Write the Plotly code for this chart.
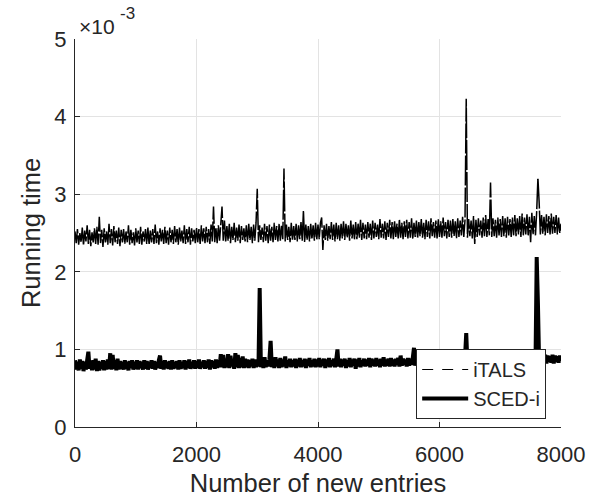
import plotly.graph_objects as go

# x positions: number of new entries (every 20 entries)
entries = list(range(0, 8001, 20))

# Running time, in units of 1e-3 (seconds)
italS_ms = [
    2.52, 2.37, 2.55, 2.35, 2.50, 2.38, 2.57, 2.34, 2.53, 2.39, 2.60, 2.36, 2.54, 2.33, 2.51, 2.38, 2.56, 2.36, 2.58, 2.35,
    2.71, 2.37, 2.54, 2.32, 2.56, 2.38, 2.52, 2.35, 2.62, 2.37, 2.55, 2.34, 2.59, 2.38, 2.53, 2.36, 2.57, 2.33, 2.54, 2.38,
    2.55, 2.36, 2.52, 2.38, 2.60, 2.35, 2.54, 2.37, 2.51, 2.34, 2.56, 2.38, 2.53, 2.36, 2.58, 2.35, 2.52, 2.39, 2.55, 2.36,
    2.57, 2.35, 2.53, 2.38, 2.55, 2.36, 2.61, 2.37, 2.52, 2.35, 2.56, 2.39, 2.54, 2.36, 2.58, 2.37, 2.53, 2.35, 2.57, 2.38,
    2.54, 2.36, 2.59, 2.38, 2.55, 2.35, 2.57, 2.39, 2.53, 2.37, 2.60, 2.36, 2.55, 2.38, 2.58, 2.35, 2.56, 2.39, 2.54, 2.37,
    2.57, 2.38, 2.55, 2.36, 2.60, 2.39, 2.56, 2.37, 2.58, 2.38, 2.55, 2.36, 2.61, 2.39, 2.84, 2.38, 2.57, 2.37, 2.60, 2.40,
    2.62, 2.84, 2.40, 2.66, 2.38, 2.59, 2.40, 2.62, 2.37, 2.58, 2.41, 2.63, 2.38, 2.57, 2.40, 2.61, 2.37, 2.59, 2.41, 2.56,
    2.39, 2.60, 2.38, 2.62, 2.41, 2.58, 2.37, 2.61, 2.40, 2.63, 3.07, 2.38, 2.60, 2.41, 2.57, 2.38, 2.62, 2.40, 2.59, 2.37,
    2.61, 2.40, 2.58, 2.38, 2.63, 2.41, 2.59, 2.39, 2.62, 2.40, 2.60, 2.42, 3.33, 2.39, 2.61, 2.41, 2.58, 2.38, 2.63, 2.40,
    2.59, 2.41, 2.62, 2.39, 2.60, 2.42, 2.64, 2.40, 2.79, 2.38, 2.61, 2.41, 2.59, 2.39, 2.62, 2.42, 2.60, 2.40, 2.63, 2.41,
    2.61, 2.42, 2.63, 2.70, 2.28, 2.60, 2.41, 2.62, 2.40, 2.59, 2.42, 2.64, 2.41, 2.61, 2.39, 2.63, 2.42, 2.60, 2.40, 2.62,
    2.43, 2.65, 2.41, 2.62, 2.44, 2.60, 2.40, 2.66, 2.43, 2.61, 2.41, 2.64, 2.42, 2.62, 2.44, 2.67, 2.41, 2.63, 2.43, 2.61,
    2.42, 2.64, 2.44, 2.62, 2.41, 2.66, 2.43, 2.63, 2.45, 2.61, 2.42, 2.68, 2.44, 2.62, 2.43, 2.65, 2.41, 2.63, 2.45, 2.67,
    2.43, 2.64, 2.42, 2.66, 2.45, 2.62, 2.43, 2.68, 2.44, 2.63, 2.42, 2.65, 2.45, 2.67, 2.43, 2.64, 2.44, 2.69, 2.42, 2.63,
    2.45, 2.66, 2.43, 2.64, 2.46, 2.68, 2.44, 2.63, 2.42, 2.67, 2.45, 2.65, 2.43, 2.69, 2.46, 2.64, 2.44, 2.66, 2.43, 2.68,
    2.45, 2.65, 2.44, 2.70, 2.46, 2.64, 2.43, 2.67, 2.45, 2.66, 2.44, 2.68, 2.46, 2.65, 2.43, 2.69, 2.45, 2.66, 2.47, 2.71,
    2.45, 2.67, 4.23, 2.44, 2.68, 2.46, 2.66, 2.43, 2.72, 2.36, 2.67, 2.45, 2.69, 2.47, 2.66, 2.44, 2.70, 2.46, 2.73, 2.45,
    2.68, 2.47, 3.15, 2.45, 2.69, 2.46, 2.67, 2.44, 2.70, 2.47, 2.68, 2.45, 2.72, 2.46, 2.69, 2.44, 2.71, 2.47, 2.68, 2.45,
    2.70, 2.47, 2.73, 2.46, 2.69, 2.48, 2.72, 2.45, 2.75, 2.47, 2.70, 2.48, 2.74, 2.46, 2.71, 2.38, 2.76, 2.48, 2.72, 2.47,
    2.78, 3.21, 2.90, 2.48, 2.73, 2.49, 2.71, 2.47, 2.74, 2.50, 2.72, 2.48, 2.75, 2.49, 2.71, 2.50, 2.73, 2.48, 2.70, 2.50,
    2.62,
]

sced_ms = [
    0.86, 0.74, 0.84, 0.73, 0.87, 0.75, 0.85, 0.72, 0.84, 0.74, 0.86, 0.97, 0.75, 0.85, 0.73, 0.86, 0.74, 0.88, 0.72, 0.85,
    0.73, 0.84, 0.75, 0.86, 0.73, 0.85, 0.74, 0.87, 0.75, 0.95, 0.74, 0.93, 0.75, 0.86, 0.73, 0.88, 0.74, 0.85, 0.75, 0.84,
    0.74, 0.86, 0.75, 0.84, 0.73, 0.85, 0.76, 0.86, 0.74, 0.84, 0.75, 0.86, 0.74, 0.85, 0.76, 0.84, 0.74, 0.86, 0.75, 0.85,
    0.74, 0.84, 0.76, 0.86, 0.75, 0.85, 0.74, 0.84, 0.76, 0.86, 0.92, 0.75, 0.85, 0.74, 0.86, 0.76, 0.84, 0.75, 0.85, 0.74,
    0.86, 0.75, 0.84, 0.76, 0.85, 0.74, 0.86, 0.75, 0.84, 0.76, 0.86, 0.74, 0.85, 0.76, 0.87, 0.75, 0.84, 0.76, 0.86, 0.75,
    0.85, 0.76, 0.87, 0.75, 0.84, 0.77, 0.86, 0.75, 0.85, 0.76, 0.87, 0.74, 0.86, 0.77, 0.85, 0.75, 0.87, 0.76, 0.86, 0.77,
    0.94, 0.77, 0.93, 0.76, 0.88, 0.77, 0.94, 0.76, 0.92, 0.78, 0.87, 0.75, 0.95, 0.77, 0.93, 0.76, 0.89, 0.77, 0.91, 0.76,
    0.88, 0.77, 0.87, 0.76, 0.86, 0.78, 0.88, 0.76, 0.87, 0.77, 0.86, 0.78, 1.79, 0.77, 0.87, 0.76, 0.90, 0.77, 0.86, 0.78,
    0.87, 1.11, 0.77, 0.88, 0.76, 0.90, 0.78, 0.87, 0.76, 0.89, 0.77, 0.87, 0.78, 0.91, 0.76, 0.86, 0.78, 0.88, 0.77, 0.86,
    0.78, 0.88, 0.76, 0.87, 0.78, 0.89, 0.77, 0.86, 0.78, 0.88, 0.76, 0.87, 0.79, 0.89, 0.77, 0.86, 0.78, 0.88, 0.77, 0.87,
    0.78, 0.89, 0.77, 0.87, 0.79, 0.88, 0.76, 0.87, 0.78, 0.89, 0.77, 0.86, 0.79, 0.88, 0.77, 0.87, 1.00, 0.78, 0.88, 0.77,
    0.87, 0.79, 0.88, 0.76, 0.86, 0.78, 0.89, 0.77, 0.87, 0.79, 0.88, 0.75, 0.87, 0.78, 0.89, 0.77, 0.86, 0.79, 0.88, 0.78,
    0.87, 0.79, 0.89, 0.77, 0.88, 0.79, 0.87, 0.78, 0.89, 0.79, 0.87, 0.77, 0.88, 0.79, 0.90, 0.78, 0.87, 0.79, 0.88, 0.78,
    0.89, 0.79, 0.87, 0.78, 0.88, 0.80, 0.89, 0.78, 0.92, 0.79, 0.88, 0.80, 0.87, 0.78, 0.89, 0.79, 0.88, 0.80, 0.89, 1.02,
    0.79, 0.88, 0.80, 0.89, 0.78, 0.90, 0.80, 0.88, 0.79, 0.89, 0.81, 0.88, 0.79, 0.90, 0.80, 0.89, 0.79, 0.88, 0.81, 0.90,
    0.80, 0.89, 0.81, 0.90, 0.79, 0.88, 0.81, 0.91, 0.80, 0.89, 0.81, 0.90, 0.79, 0.89, 0.81, 0.91, 0.80, 0.89, 0.82, 0.90,
    0.80, 0.90, 1.21, 0.81, 0.89, 0.80, 0.91, 0.81, 0.90, 0.80, 0.89, 0.82, 0.91, 0.80, 0.90, 0.81, 0.92, 0.80, 0.89, 0.82,
    0.91, 0.81, 0.90, 0.82, 0.92, 0.80, 0.89, 0.81, 0.91, 0.82, 0.90, 0.80, 0.92, 0.81, 0.90, 0.82, 0.91, 0.81, 0.90, 0.83,
    0.91, 0.81, 0.92, 0.82, 0.90, 0.83, 0.91, 0.81, 0.93, 0.82, 0.90, 0.83, 0.92, 0.81, 0.91, 0.83, 0.93, 0.82, 0.95, 0.82,
    2.19, 1.60, 0.83, 0.92, 0.82, 0.91, 0.84, 0.93, 0.82, 0.92, 0.84, 0.91, 0.83, 0.93, 0.82, 0.92, 0.84, 0.91, 0.83, 0.92,
    0.85,
]

series_names = ["iTALS", "SCED-i"]
x_ticks = [0, 2000, 4000, 6000, 8000]
y_ticks = [0, 1, 2, 3, 4, 5]
exponent_base = "\u00d710"
exponent_power = "-3"

FONT = "Liberation Sans, Arial, Helvetica, sans-serif"
AX = "#262626"
GRID = "#e3e3e3"

fig = go.Figure()
# iTALS data (long dashes so the dense band stays dark, as in the picture)
fig.add_trace(go.Scatter(
    x=entries, y=italS_ms, mode="lines", name=series_names[0],
    line=dict(color="black", width=1.5, dash="30px,2px", simplify=False),
    showlegend=False, legendgroup="italS",
))
# legend key for iTALS with the dashed pattern shown in the legend box
fig.add_trace(go.Scatter(
    x=[None], y=[None], mode="lines", name=series_names[0],
    line=dict(color="black", width=1, dash="11px,9px"),
    legendgroup="italS",
))
fig.add_trace(go.Scatter(
    x=entries, y=sced_ms, mode="lines", name=series_names[1],
    line=dict(color="black", width=4, simplify=False),
))

fig.update_layout(
    width=590, height=497,
    margin=dict(l=75, r=29, t=39, b=70, autoexpand=False),
    paper_bgcolor="white", plot_bgcolor="white",
    font=dict(family=FONT, color=AX, size=22),
    showlegend=True,
    legend=dict(
        x=0.702, y=0.201, xanchor="left", yanchor="top",
        bgcolor="white", bordercolor=AX, borderwidth=1,
        font=dict(size=20, color=AX), tracegroupgap=0, itemwidth=46,
    ),
    xaxis=dict(
        range=[0, 8000], tickvals=x_ticks, ticktext=[str(v) for v in x_ticks],
        showgrid=True, gridcolor=GRID, gridwidth=1,
        showline=True, linecolor=AX, linewidth=1,
        ticks="inside", ticklen=5, tickcolor=AX, ticklabelstandoff=8,
        zeroline=False, tickfont=dict(size=22), automargin=False,
        title=dict(text="Number of new entries", font=dict(size=25.5), standoff=10),
    ),
    yaxis=dict(
        range=[0, 5], tickvals=y_ticks, ticktext=[str(v) for v in y_ticks],
        showgrid=True, gridcolor=GRID, gridwidth=1,
        showline=True, linecolor=AX, linewidth=1,
        ticks="inside", ticklen=5, tickcolor=AX, ticklabelstandoff=3,
        zeroline=False, tickfont=dict(size=22), automargin=False,
        title=dict(text="Running time", font=dict(size=25.5), standoff=6),
    ),
    annotations=[
        dict(text=exponent_base, xref="paper", yref="paper",
             x=0.0041, y=1.0335, xanchor="left", yanchor="middle",
             showarrow=False, font=dict(size=21, color=AX)),
        dict(text=exponent_power, xref="paper", yref="paper",
             x=0.0875, y=1.0528, xanchor="left", yanchor="middle",
             showarrow=False, font=dict(size=17, color=AX), yshift=5),
    ],
)

fig.write_html("out.html", config={"displayModeBar": False},
               post_script="document.body.style.margin='0';")
